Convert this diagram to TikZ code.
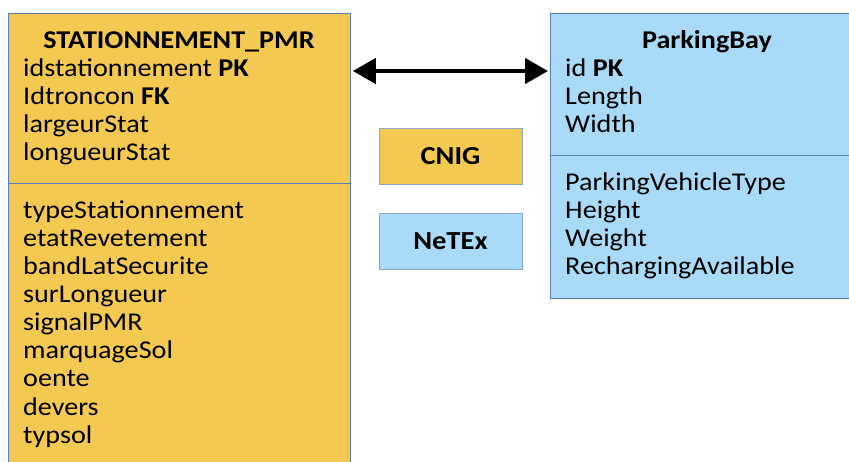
\documentclass[tikz,border=0pt]{standalone}
\usepackage{fontspec}
\setmainfont{Carlito}[FakeStretch=1.1]
\usetikzlibrary{arrows.meta, positioning}

\definecolor{cnigyellow}{RGB}{243,201,82}
\definecolor{netexblue}{RGB}{169,218,247}
\definecolor{tableedge}{RGB}{84,126,188}
\definecolor{legendedge}{RGB}{140,165,200}

\begin{document}
\begin{tikzpicture}[x=1pt, y=-1pt,
		table/.style = {draw = tableedge, line width = 0.8pt, anchor = north west, inner sep = 0pt},
		divider/.style = {draw = tableedge, line width = 0.8pt},
		attr/.style = {anchor = base west, inner sep = 0pt, font = \fontsize{25.6}{28}\selectfont},
		title/.style = {anchor = base, inner sep = 0pt, font = \fontsize{25.6}{28}\selectfont\bfseries},
		legend/.style = {draw = legendedge, line width = 0.8pt, minimum width = 143pt, minimum height = 56pt, inner sep = 0pt, font = \fontsize{26}{28}\selectfont\bfseries},
		assoc/.style = {{Triangle[length = 23pt, width = 25pt]}-{Triangle[length = 23pt, width = 25pt]}, line width = 4.5pt, shorten <= 2pt, shorten >= 2pt}]
		
		\useasboundingbox (0,0) rectangle (849,462);
		
		% tables
		\node [table, fill = cnigyellow, minimum width = 342pt, minimum height = 470pt] (stat) at (8,13) {};
		\node [table, fill = netexblue, minimum width = 314pt, minimum height = 285pt] (bay) at (550,13) {};
		
		\draw [divider] (stat.west |- 0,183) -- (stat.east |- 0,183);
		\draw [divider] (bay.west |- 0,155) -- (bay.east |- 0,155);
		
		\node [title] (stattitle) at (179,49) {STATIONNEMENT\_PMR};
		\node [title] (baytitle) at (707,49) {ParkingBay};
		
		%attributes
		\foreach \attr [count = \i] in {idstationnement \textbf{PK}, Idtroncon \textbf{FK}, largeurStat, longueurStat}
			\node [attr] (statkey\i) at (23, {77 + 28*(\i-1)}) {\attr};
		\foreach \attr [count = \i] in {typeStationnement, etatRevetement, bandLatSecurite, surLongueur, signalPMR, marquageSol, oente, devers, typsol}
			\node [attr] (statattr\i) at (23, {219 + 28*(\i-1)}) {\attr};
		
		\foreach \attr [count = \i] in {id \textbf{PK}, Length, Width}
			\node [attr] (baykey\i) at (565, {77 + 28*(\i-1)}) {\attr};
		\foreach \attr [count = \i] in {ParkingVehicleType, Height, Weight, RechargingAvailable}
			\node [attr] (bayattr\i) at (565, {191 + 28*(\i-1)}) {\attr};
		
		%legend
		\node [legend, fill = cnigyellow] (cnig) at (450.5,156) {CNIG};
		\node [legend, fill = netexblue] (netex) at (450.5,241.5) {NeTEx};
		
		\draw [assoc] ([yshift = -58pt]stat.north east) -- ([yshift = -58pt]bay.north west);
	\end{tikzpicture}
\end{document}
